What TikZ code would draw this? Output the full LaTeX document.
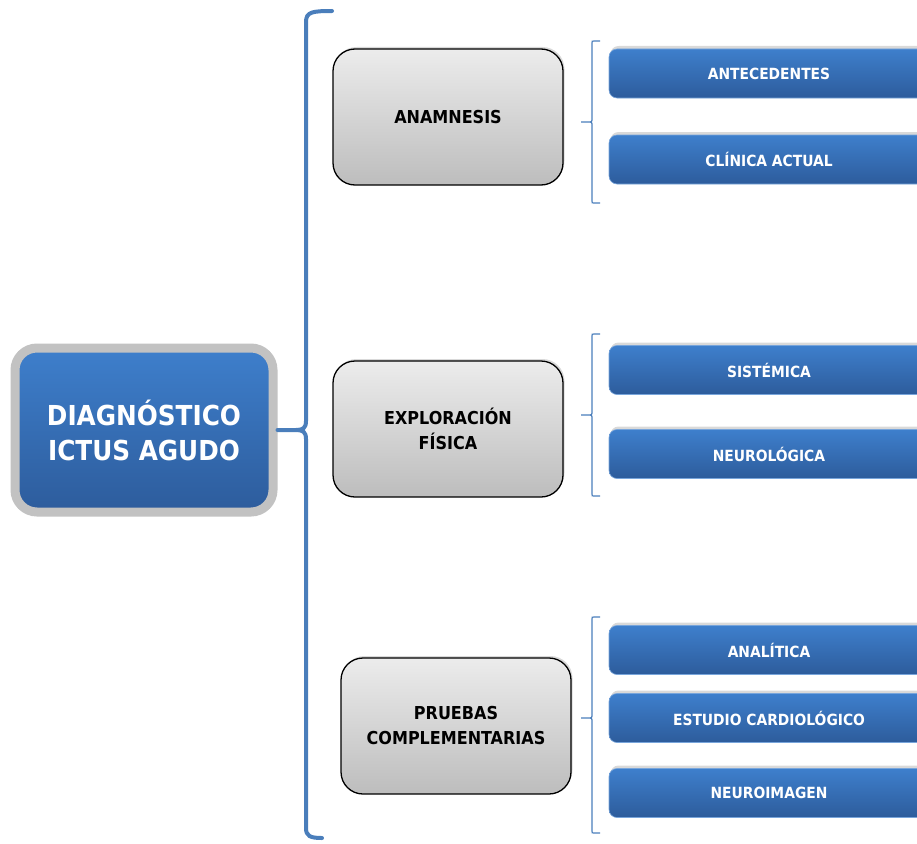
\documentclass[tikz,border=0pt]{standalone}
\usepackage{fontspec}
\newfontfamily\labfont{DejaVu Sans Condensed Bold}
\usetikzlibrary{shadows}
\definecolor{bracketblue}{HTML}{4A7EBB}
\definecolor{boxtop}{HTML}{3E7FCC}
\definecolor{boxbot}{HTML}{2D5C9C}
\definecolor{greytop}{HTML}{ECECEC}
\definecolor{greybot}{HTML}{BDBDBD}
\tikzset{
  mainbox/.style={rectangle, rounded corners=22, minimum width=258, minimum height=164,
    inner sep=0, draw=black!24, line width=9, top color=boxtop, bottom color=boxbot,
    text=white, align=center, font=\labfont\fontsize{27.5}{35}\selectfont,
    drop shadow={shadow xshift=0, shadow yshift=0, opacity=0.25}},
  topicbox/.style={rectangle, rounded corners=22, minimum width=230, minimum height=136,
    inner sep=0, draw=black, line width=1.3, top color=greytop, bottom color=greybot,
    align=center, font=\labfont\fontsize{17.8}{25}\selectfont,
    drop shadow={shadow xshift=1.5, shadow yshift=-2, opacity=0.3}},
  itembox/.style={rectangle, rounded corners=8, minimum width=320, minimum height=49,
    inner sep=0, draw=boxtop!70!white, line width=0.6, top color=boxtop, bottom color=boxbot,
    text=white, font=\labfont\fontsize{15.4}{17}\selectfont,
    drop shadow={shadow xshift=1.5, shadow yshift=-3, opacity=0.3}},
  bigbrace/.style={draw=bracketblue, line width=4, line cap=round},
  smallbrace/.style={draw=bracketblue, line width=1.2},
}
\begin{document}
\begin{tikzpicture}[x=1pt, y=-1pt]
\useasboundingbox (0,0) rectangle (917,843);
\begin{scope}
\clip (0,0) rectangle (917,843);

% central node
\node[mainbox] (diag) at (144,430) {DIAGNÓSTICO\\ICTUS AGUDO};

% three topics
\node[topicbox] (anam) at (448,117) {ANAMNESIS};
\node[topicbox] (expl) at (448,429) {EXPLORACIÓN\\FÍSICA};
\node[topicbox] (prue) at (456,726) {PRUEBAS\\COMPLEMENTARIAS};

% items of each topic
\node[itembox] (ante) at (769,73.5) {ANTECEDENTES};
\node[itembox] (clin) at (769,159.5) {CLÍNICA ACTUAL};
\node[itembox] (sist) at (769,370) {SISTÉMICA};
\node[itembox] (neur) at (769,454) {NEUROLÓGICA};
\node[itembox] (anal) at (769,650) {ANALÍTICA};
\node[itembox] (card) at (769,718) {ESTUDIO CARDIOLÓGICO};
\node[itembox] (nimg) at (769,793) {NEUROIMAGEN};

% big brace from the central node
\coordinate (bt) at (332,11);
\coordinate (bb) at (322,838);
\draw[bigbrace] (bt) .. controls (312,11) and (306,12) .. (306,22)
  -- (306,421) .. controls (306,428) and (303,430) .. (296,430) -- (diag.east)
  (306,439) .. controls (306,432) and (303,430) .. (296,430)
  (306,439) -- (306,828) .. controls (306,836) and (310,838) .. (bb);

% small braces in front of each group of items
\foreach \t/\m/\b/\n in {41/122/203/anam, 334/415/496/expl, 617/718/833/prue}{
  \coordinate (tip-\n) at (581,\m);
  \draw[smallbrace] (600,\t) -- (594,\t) .. controls (592,\t) .. (592,\t+2)
    -- (592,\m-4) .. controls (592,\m) .. (588,\m) -- (tip-\n)
    (592,\m+4) .. controls (592,\m) .. (588,\m)
    (592,\m+4) -- (592,\b-2) .. controls (592,\b) .. (594,\b) -- (600,\b);
}
\end{scope}
\end{tikzpicture}
\end{document}
